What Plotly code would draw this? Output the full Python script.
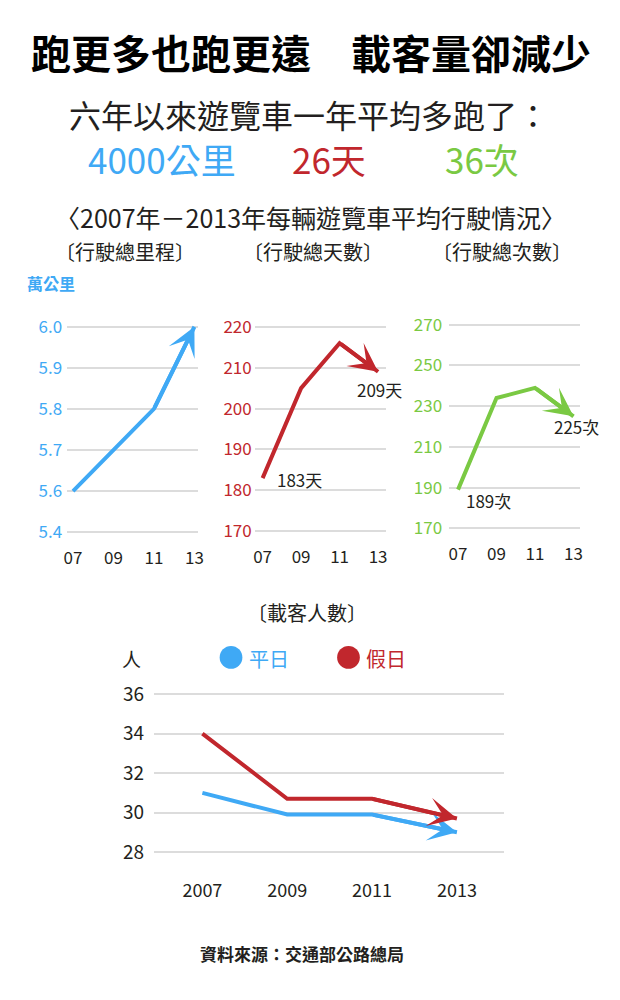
import plotly.graph_objects as go

# ---------------- data ----------------
years = [2007, 2009, 2011, 2013]
year_short = ["07", "09", "11", "13"]
year_full = ["2007", "2009", "2011", "2013"]

distance = [5.6, 5.7, 5.8, 6.0]      # 萬公里
days = [183, 205, 216, 209]          # 天
trips = [189, 234, 239, 225]         # 次
weekday = [31.0, 29.9, 29.9, 29.0]   # 平日 載客人數
holiday = [34.0, 30.7, 30.7, 29.7]   # 假日 載客人數

dist_tickvals = [5.5, 5.6, 5.7, 5.8, 5.9, 6.0]
dist_ticktext = ["5.4", "5.6", "5.7", "5.8", "5.9", "6.0"]
days_ticks = [170, 180, 190, 200, 210, 220]
trips_ticks = [170, 190, 210, 230, 250, 270]
pax_ticks = [28, 30, 32, 34, 36]

# ---------------- style ----------------
BLUE = "#3FA9F5"
RED = "#C1272D"
GREEN = "#7AC943"
DARK = "#231F20"
GRID = "#DCDCDC"
FONT = "Noto Sans CJK TC"
W, H = 620, 1000


def px_x(a, b):
    return [a / W, b / W]


def px_y(top, bottom):
    return [1 - bottom / H, 1 - top / H]


fig = go.Figure()

series = [
    (distance, BLUE, "x", "y"),
    (days, RED, "x2", "y2"),
    (trips, GREEN, "x3", "y3"),
    (weekday, BLUE, "x4", "y4"),
    (holiday, RED, "x4", "y4"),
]
for vals, col, xa, ya in series:
    fig.add_trace(go.Scatter(x=years, y=vals, mode="lines",
                             line=dict(color=col, width=4),
                             xaxis=xa, yaxis=ya, showlegend=False,
                             hoverinfo="skip"))

annotations = []
for vals, col, xa, ya in series:
    annotations.append(dict(
        x=years[-1], y=vals[-1], ax=years[-2], ay=vals[-2],
        xref=xa, yref=ya, axref=xa, ayref=ya, text="",
        showarrow=True, arrowhead=3, arrowsize=1.2, arrowwidth=4,
        arrowcolor=col))


def xaxis(domain, rng, ticktext, size, standoff, anchor):
    return dict(domain=domain, range=rng, tickvals=years, ticktext=ticktext,
                anchor=anchor,
                showgrid=False, zeroline=False, showline=False, ticks="",
                tickfont=dict(family=FONT, size=size, color=DARK),
                ticklabelstandoff=standoff, fixedrange=True)


def yaxis(domain, rng, tickvals, ticktext, color, size, standoff, anchor):
    return dict(domain=domain, range=rng, tickvals=tickvals, ticktext=ticktext,
                anchor=anchor,
                showgrid=True, gridcolor=GRID, gridwidth=2, zeroline=False,
                showline=False, ticks="",
                tickfont=dict(family=FONT, size=size, color=color),
                ticklabelstandoff=standoff, fixedrange=True)


fig.update_layout(
    width=W, height=H,
    margin=dict(l=0, r=0, t=0, b=0),
    paper_bgcolor="white", plot_bgcolor="white",
    font=dict(family=FONT, color=DARK),
    xaxis=xaxis(px_x(65, 198), [2006.71, 2013.2], year_short, 17, 4, "y"),
    yaxis=yaxis(px_y(314, 541), [5.4758, 6.0242], dist_tickvals,
                dist_ticktext, BLUE, 17, 4, "x"),
    xaxis2=xaxis(px_x(255, 388), [2006.59, 2013.41], year_short, 17, 4, "y2"),
    yaxis2=yaxis(px_y(314, 540), [167.57, 222.43], days_ticks,
                 [str(v) for v in days_ticks], RED, 17, 2, "x2"),
    xaxis3=xaxis(px_x(452, 585), [2006.54, 2013.36], year_short, 17, 4, "y3"),
    yaxis3=yaxis(px_y(312, 537), [165.12, 274.88], trips_ticks,
                 [str(v) for v in trips_ticks], GREEN, 17, 6, "x3"),
    xaxis4=xaxis(px_x(153, 508), [2005.86, 2014.12], year_full, 18, 16, "y4"),
    yaxis4=yaxis(px_y(684, 863), [27.5, 36.5], pax_ticks,
                 [str(v) for v in pax_ticks], DARK, 19, 9, "x4"),
)


def text(t, x, y, size, color=DARK, xanchor="center", bold=False):
    return dict(text=t, x=x / W, y=1 - y / H, xref="paper", yref="paper",
                xanchor=xanchor, yanchor="middle", showarrow=False,
                font=dict(family=FONT, size=size, color=color,
                          weight="bold" if bold else "normal"))


annotations += [
    text("跑更多也跑更遠　載客量卻減少", 312, 47, 40, "#000000", bold=True),
    text("六年以來遊覽車一年平均多跑了：", 310, 110, 32),
    text(f"{round((distance[-1] - distance[0]) * 10000)}公里", 161, 155, 35, BLUE),
    text(f"{days[-1] - days[0]}天", 330, 155, 35, RED),
    text(f"{trips[-1] - trips[0]}次", 485, 155, 35, GREEN),
    text("〈2007年－2013年每輛遊覽車平均行駛情況〉", 312, 213, 25),
    text("〔行駛總里程〕", 124, 248, 20),
    text("〔行駛總天數〕", 314, 248, 20),
    text("〔行駛總次數〕", 506, 248, 20),
    text("萬公里", 22, 280, 16, BLUE, xanchor="left", bold=True),
    text("〔載客人數〕", 308, 612, 20),
    text("人", 130, 658, 19),
    text("平日", 247, 658, 20, BLUE, xanchor="left"),
    text("假日", 366, 658, 20, RED, xanchor="left"),
    text("資料來源：交通部公路總局", 303, 955, 17, bold=True),
]

# value labels attached to data points
lab_font = dict(family=FONT, size=17, color=DARK)
annotations += [
    dict(text=f"{days[0]}天", x=years[0], y=days[0], xref="x2", yref="y2",
         xanchor="left", yanchor="middle", xshift=12, yshift=-1,
         showarrow=False, font=lab_font),
    dict(text=f"{days[-1]}天", x=years[-1], y=days[-1], xref="x2", yref="y2",
         xanchor="center", yanchor="middle", xshift=1, yshift=-18,
         showarrow=False, font=lab_font),
    dict(text=f"{trips[0]}次", x=years[0], y=trips[0], xref="x3", yref="y3",
         xanchor="left", yanchor="middle", xshift=6, yshift=-11,
         showarrow=False, font=lab_font),
    dict(text=f"{trips[-1]}次", x=years[-1], y=trips[-1], xref="x3", yref="y3",
         xanchor="center", yanchor="middle", xshift=3, yshift=-10,
         showarrow=False, font=lab_font),
]

fig.update_layout(annotations=annotations)

# legend dots
r = 11.5
shapes = []
for cx, col in [(231, BLUE), (350, RED)]:
    shapes.append(dict(type="circle", xref="paper", yref="paper",
                       x0=(cx - r) / W, x1=(cx + r) / W,
                       y0=1 - (657 + r) / H, y1=1 - (657 - r) / H,
                       fillcolor=col, line=dict(width=0)))
fig.update_layout(shapes=shapes)

fig.write_html("out.html",
               config={"displayModeBar": False},
               post_script="document.body.style.margin='0';")
